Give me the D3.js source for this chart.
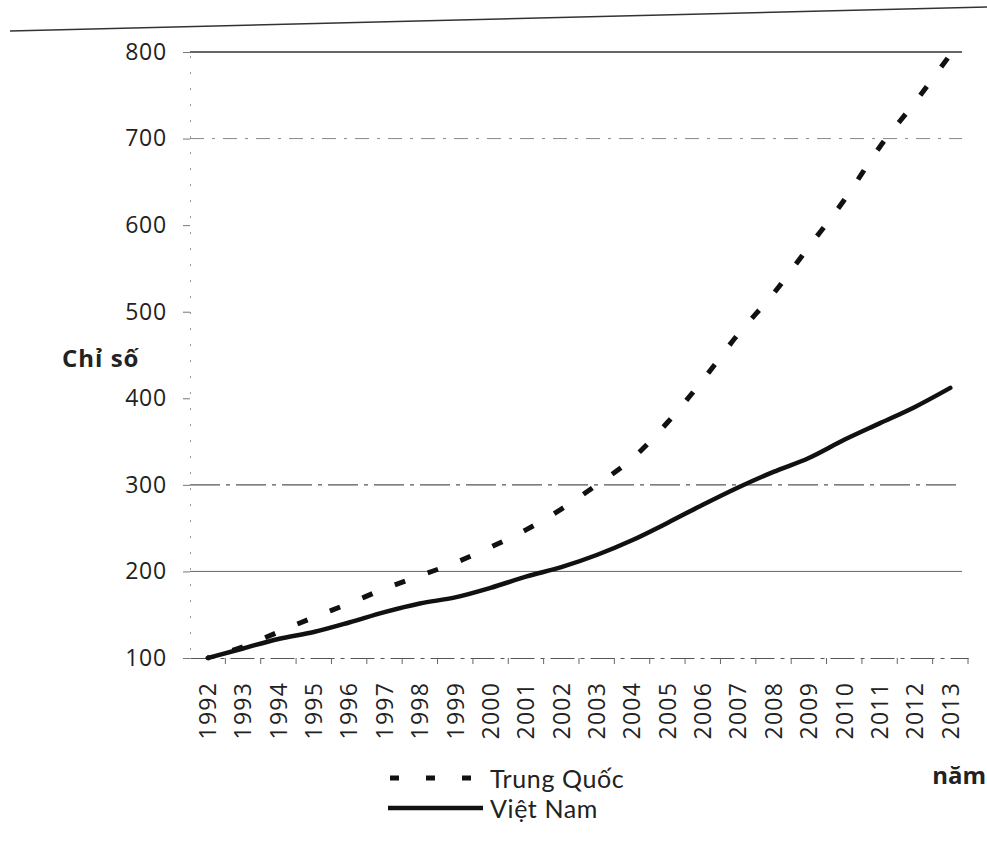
<!DOCTYPE html>
<html>
<head>
<meta charset="utf-8">
<script src="https://cdn.jsdelivr.net/npm/d3@7"></script>
<style>
  body { margin: 0; background: #fff; }
  svg { display: block; }
  text { font-family: "Open Sans", Lato, sans-serif; fill: #222; }
</style>
</head>
<body>
<svg id="chart" width="987" height="846"></svg>
<script>
'use strict';

//Years on the x axis (category axis).
const years = ['1992', '1993', '1994', '1995', '1996', '1997', '1998', '1999', '2000', '2001', '2002',
  '2003', '2004', '2005', '2006', '2007', '2008', '2009', '2010', '2011', '2012', '2013'];
//Index values, 1992 = 100.
const trungQuoc = [100, 113, 130, 147, 163, 180, 195, 210, 228, 248, 272,
  300, 330, 372, 421, 474, 521, 575, 629, 690, 742, 797];
const vietNam = [100, 111, 122, 130, 141, 153, 163, 170, 181, 194, 205,
  219, 236, 256, 277, 297, 315, 331, 352, 371, 390, 412];
const yTicks = [100, 200, 300, 400, 500, 600, 700, 800];
const legendLabels = ['Trung Quốc', 'Việt Nam'];

const width = 987;
const margin = {top: 52, left: 190, right: 19, bottom: 188};
const x0 = margin.left, x1 = width - margin.right;
const yTop = margin.top, yBottom = 846 - margin.bottom;

const svg = d3.select('#chart');

//Set ranges and domains.
const xScale = d3.scaleBand().domain(years).range([x0, x1]);
const yScale = d3.scaleLinear().domain([100, 800]).range([yBottom, yTop]);

//Top frame line from the scanned page.
svg.append('line')
  .attr('x1', 10).attr('x2', width)
  .attr('y1', 31).attr('y2', 7)
  .style('stroke', '#333').style('stroke-width', 1.5);

//Gridlines: only some of them survive in the scan.
const grid = [
  {v: 800, dash: null, w: 1.6, c: '#333'},
  {v: 700, dash: '14,8,3,8', w: 1, c: '#888'},
  {v: 300, dash: '30,6,4,6', w: 1.2, c: '#555'},
  {v: 200, dash: null, w: 1, c: '#666'}
];
svg.selectAll('line.grid')
  .data(grid)
  .enter()
  .append('line')
  .attr('class', 'grid')
  .attr('x1', x0).attr('x2', x1 - 6)
  .attr('y1', (d) => yScale(d.v)).attr('y2', (d) => yScale(d.v))
  .style('stroke', (d) => d.c)
  .style('stroke-width', (d) => d.w)
  .style('stroke-dasharray', (d) => d.dash);

//y-axis
const yAxis = d3.axisLeft(yScale).tickValues(yTicks).tickSize(7).tickPadding(16);
const gy = svg.append('g')
  .attr('transform', `translate(${x0}, 0)`)
  .call(yAxis);
gy.select('.domain').style('stroke', '#999').style('stroke-dasharray', '2,14');
gy.selectAll('.tick line').style('stroke', '#777');
gy.selectAll('text').style('font-size', '23px').style('letter-spacing', '0.8px').style('fill', '#222');

//x-axis: ticks sit on the band boundaries.
const xAxis = d3.axisBottom(xScale).tickSize(0).tickPadding(0);
const gx = svg.append('g')
  .attr('transform', `translate(0, ${yBottom})`)
  .call(xAxis);
gx.select('.domain').style('stroke', '#555').style('stroke-width', 1.2).style('stroke-dasharray', '24,6,4,6');
gx.selectAll('.tick text')
  .style('font-size', '23px')
  .style('letter-spacing', '1.2px')
  .style('text-anchor', 'end')
  .attr('transform', 'rotate(-90)')
  .attr('x', -24)
  .attr('y', 0)
  .attr('dy', '0.36em');
gx.selectAll('line.bound')
  .data(years)
  .enter()
  .append('line')
  .attr('class', 'bound')
  .attr('x1', (d) => xScale(d) + xScale.bandwidth())
  .attr('x2', (d) => xScale(d) + xScale.bandwidth())
  .attr('y1', 0).attr('y2', 6)
  .style('stroke', '#666');

//Lines.
const line = (values) => d3.line()
  .x((d, i) => xScale(years[i]) + xScale.bandwidth() / 2)
  .y((d) => yScale(d))
  .curve(d3.curveMonotoneX)(values);

svg.append('path')
  .attr('d', line(trungQuoc))
  .style('fill', 'none')
  .style('stroke', '#111')
  .style('stroke-width', 5)
  .style('stroke-dasharray', '11,24')
  .style('stroke-dashoffset', -26);

svg.append('path')
  .attr('d', line(vietNam))
  .style('fill', 'none')
  .style('stroke', '#111')
  .style('stroke-width', 4.5)
  .style('stroke-linecap', 'round');

//Axis titles.
svg.append('text')
  .attr('x', 62).attr('y', 367)
  .style('font-size', '24px').style('font-weight', 'bold').style('letter-spacing', '1px')
  .text('Chỉ số');
svg.append('text')
  .attr('x', 986).attr('y', 784)
  .style('text-anchor', 'end')
  .style('font-size', '24px').style('font-weight', 'bold')
  .text('năm');

//Legend.
const legend = svg.append('g').attr('transform', 'translate(388, 778)');
legend.append('line')
  .attr('x1', 2).attr('x2', 94).attr('y1', 0).attr('y2', 0)
  .style('stroke', '#111').style('stroke-width', 5)
  .style('stroke-dasharray', '9,27');
legend.append('line')
  .attr('x1', 0).attr('x2', 95).attr('y1', 30).attr('y2', 30)
  .style('stroke', '#111').style('stroke-width', 4.5);
legend.selectAll('text.leg')
  .data(legendLabels)
  .enter()
  .append('text')
  .attr('class', 'leg')
  .attr('x', 102)
  .attr('y', (d, i) => 10 + i * 30)
  .style('font-family', 'Lato, "Open Sans", sans-serif')
  .style('font-size', '25px')
  .style('letter-spacing', '0.6px')
  .text((d) => d);
</script>
</body>
</html>
